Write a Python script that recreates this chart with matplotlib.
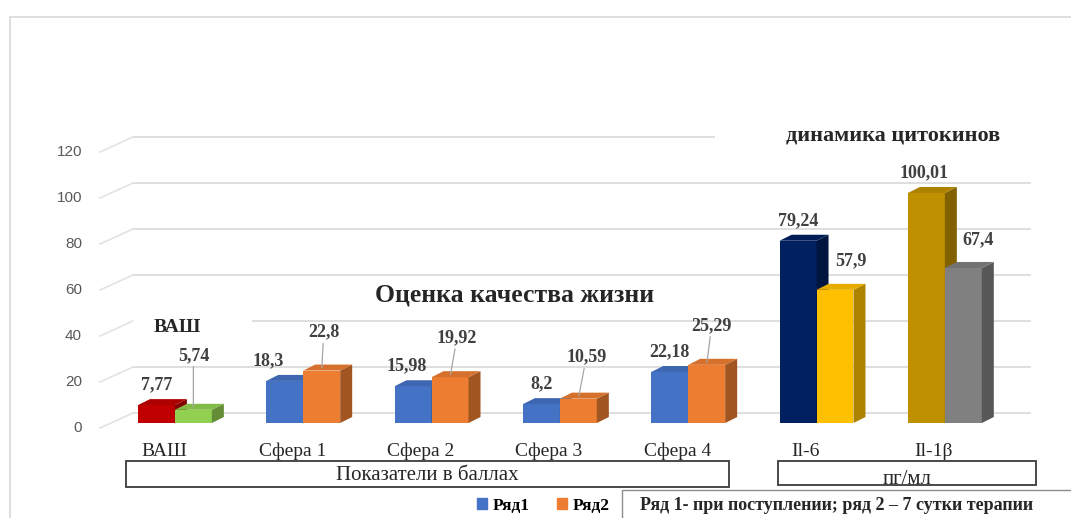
import matplotlib

matplotlib.use("Agg")
import matplotlib.pyplot as plt
import matplotlib.transforms as mtransforms
from matplotlib.colors import to_rgb
from matplotlib.lines import Line2D
from matplotlib.patches import Patch, Polygon, Rectangle
import numpy as np

# values
CATEGORIES = ["ВАШ", "Сфера 1", "Сфера 2", "Сфера 3", "Сфера 4", "Il-6", "Il-1β"]
SERIES1 = [7.77, 18.3, 15.98, 8.2, 22.18, 79.24, 100.01]
SERIES2 = [5.74, 22.8, 19.92, 10.59, 25.29, 57.9, 67.4]
COLORS1 = ["#C00000", "#4472C4", "#4472C4", "#4472C4", "#4472C4", "#002060", "#BF9000"]
COLORS2 = ["#92D050", "#ED7D31", "#ED7D31", "#ED7D31", "#ED7D31", "#FFC000", "#808080"]
YTICKS = [0, 20, 40, 60, 80, 100, 120]
SERIES_NAMES = ["Ряд1", "Ряд2"]
GROUP_NAMES = ["Показатели в баллах", "пг/мл"]
NOTE = "Ряд 1- при поступлении; ряд 2 – 7 сутки терапии"

# label offsets in pixels (layout only)
OFF1 = [(0, 12), (-17, 12), (-6, 12), (0, 12), (0, 12), (0, 12), (-2, 12)]
OFF2 = [(0, 46), (2, 30), (7, 31), (8, 33), (5, 31), (16, 21), (15, 20)]

SERIF = "Liberation Serif"
W, H = 1071, 518
DX, DY = 12, 6        # bar depth in pixels
GX, GY = 12, 10       # back wall offset in pixels
BW = 0.288


def fx(p):
    return p / W


def fy(p):
    return 1 - p / H


def shade(c, f):
    return tuple(min(1, v * f) for v in to_rgb(c))


fig = plt.figure(figsize=(W / 100, H / 100), dpi=100)
ax = fig.add_axes([fx(121), fy(423), 897 / W, 276 / H])
ax.set_xlim(-0.42, 6.57)
ax.set_ylim(0, 120)
ax.axis("off")
ident = mtransforms.IdentityTransform()


def px(x, y):
    return ax.transData.transform((x, y))


# outer chart frame
fig.add_artist(Rectangle((fx(10), fy(H + 20)), 1.2, (H + 3) / H, transform=fig.transFigure,
                         fill=False, ec="#D9D9D9", lw=1.2))

# back wall gridlines and left wall slants
x0, x1 = ax.get_xlim()
for v in YTICKS:
    (ax_, ay), (bx, _) = px(x0, v), px(x1, v)
    ax.add_line(Line2D([ax_ + GX, bx + GX], [ay + GY, ay + GY], transform=ident,
                       color="#D9D9D9", lw=1.2, zorder=1, clip_on=False))
    ax.add_line(Line2D([ax_ - 21, ax_ + GX], [ay - 5, ay + GY], transform=ident,
                       color="#E3E3E3", lw=1.2, zorder=1, clip_on=False))
    ax.text(ax_ - 39, ay - 5, str(v), transform=ident, ha="right", va="center",
            fontsize=11, color="#595959", family="Liberation Sans")

# white boxes of the in-chart titles
for l, t, r, b in [(133, 308, 252, 342), (715, 118, 1040, 152)]:
    fig.add_artist(Rectangle((fx(l), fy(b)), (r - l) / W, (b - t) / H,
                             transform=fig.transFigure, fc="white", ec="none", zorder=2))


def bar3d(xc, h, color, z):
    ax.bar(xc, h, BW, color=color, zorder=z, linewidth=0)
    (l, b), (r, t) = px(xc - BW / 2, 0), px(xc + BW / 2, h)
    side = [(r, b), (r, t), (r + DX, t + DY), (r + DX, b + DY)]
    top = [(l, t), (r, t), (r + DX, t + DY), (l + DX, t + DY)]
    ax.add_patch(Polygon(side, closed=True, transform=ident, fc=shade(color, 0.68),
                         ec="none", zorder=z, clip_on=False))
    ax.add_patch(Polygon(top, closed=True, transform=ident, fc=shade(color, 0.9),
                         ec="none", zorder=z, clip_on=False))


lab = dict(fontsize=13, fontweight="bold", family=SERIF, color="#404040", zorder=20,
           ha="center", va="bottom", textcoords="offset pixels")
x = np.arange(len(CATEGORIES))
for i in x:
    bar3d(i - BW / 2, SERIES1[i], COLORS1[i], 3 + 2 * i)
    bar3d(i + BW / 2, SERIES2[i], COLORS2[i], 4 + 2 * i)
    ax.annotate(f"{SERIES1[i]:g}".replace(".", ","), (i - BW / 2, SERIES1[i]),
                xytext=OFF1[i], **lab)
    arrow = dict(arrowstyle="-", color="#A6A6A6", lw=0.9, shrinkA=0, shrinkB=2) if i < 5 else None
    ax.annotate(f"{SERIES2[i]:g}".replace(".", ","), (i + BW / 2, SERIES2[i]),
                xytext=OFF2[i], arrowprops=arrow, **lab)
    ax.annotate(CATEGORIES[i], (i, 0), xytext=(-11, -28), textcoords="offset pixels",
                ha="center", va="center", fontsize=14, family=SERIF, color="#262626")

# in-chart titles
fig.text(fx(177), fy(327), "ВАШ", ha="center", va="center", fontsize=14,
         fontweight="bold", family=SERIF, color="#262626", zorder=6)
fig.text(fx(515), fy(295), "Оценка качества жизни", ha="center", va="center",
         fontsize=18.5, fontweight="bold", family=SERIF, color="#262626", zorder=6)
fig.text(fx(893), fy(135), "динамика цитокинов", ha="center", va="center",
         fontsize=16, fontweight="bold", family=SERIF, color="#262626", zorder=6)

# group boxes under the category labels
for (ga, gb), name, (top, bot), ty in zip([(-0.38, 4.32), (4.7, 6.71)], GROUP_NAMES,
                                          [(461, 487), (461, 485)], [476, 480]):
    l, r = px(ga, 0)[0], px(gb, 0)[0]
    fig.add_artist(Rectangle((fx(l), fy(bot)), (r - l) / W, (bot - top) / H,
                             transform=fig.transFigure, fill=False, ec="#3A3A3A", lw=1.3))
    fig.text(fx((l + r) / 2), fy(ty), name, ha="center", va="center", fontsize=15,
             family=SERIF, color="#262626")

# legend and note
handles = [Patch(color=COLORS1[1]), Patch(color=COLORS2[1])]
fig.legend(handles, SERIES_NAMES, loc="center left", bbox_to_anchor=(fx(468), fy(506)),
           ncol=2, frameon=False, handlelength=0.6, handleheight=0.6, handletextpad=0.3,
           columnspacing=1.6, borderpad=0, prop=dict(family=SERIF, weight="bold", size=12.5))
fig.add_artist(Rectangle((fx(622), fy(H + 30)), 0.5, (H + 30 - 490) / H,
                         transform=fig.transFigure, fill=False, ec="#8C8C8C", lw=1))
fig.text(fx(640), fy(506), NOTE, ha="left", va="center", fontsize=13, fontweight="bold",
         family=SERIF, color="#262626")

fig.savefig("out.png", dpi=100)
